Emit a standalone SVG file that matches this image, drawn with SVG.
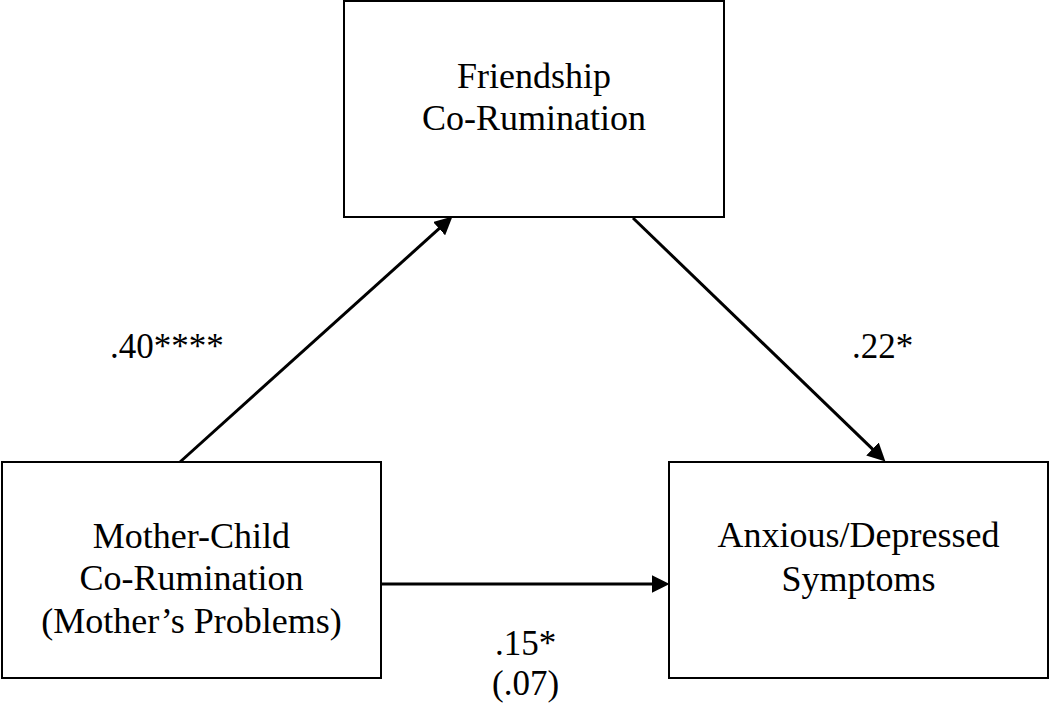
<svg xmlns="http://www.w3.org/2000/svg" width="1050" height="706" viewBox="0 0 1050 706">
<style>
.box{fill:#fff;stroke:#000;stroke-width:2}
.t{font-family:"Liberation Serif","Times New Roman",serif;font-size:36px;fill:#000;text-anchor:middle}
.lbl{font-family:"Liberation Serif","Times New Roman",serif;font-size:35px;fill:#000}
.c{stroke:#000;stroke-width:3;fill:none;marker-end:url(#ah)}
</style>
<defs>
<marker id="ah" markerUnits="userSpaceOnUse" markerWidth="18" markerHeight="18" refX="7" refY="8.5" orient="auto" viewBox="0 0 17 17">
<path d="M0,0 L17,8.5 L0,17 z" fill="#000"/>
</marker>
</defs>
<rect width="1050" height="706" fill="#fff"/>
<g id="connectors">
<path class="c" d="M180,462 L444.6,223.7"/>
<path class="c" d="M633,218 L877.8,454.1"/>
<path class="c" d="M381,584 L659,584"/>
</g>
<g id="friendship">
<rect class="box" x="344" y="1" width="380" height="216"/>
<text class="t" x="534" y="88">Friendship</text>
<text class="t" x="534" y="130">Co-Rumination</text>
</g>
<g id="mother-child">
<rect class="box" x="2" y="462" width="379" height="216"/>
<text class="t" x="191.5" y="548">Mother-Child</text>
<text class="t" x="191.5" y="590">Co-Rumination</text>
<text class="t" x="191.5" y="633">(Mother’s Problems)</text>
</g>
<g id="anxious">
<rect class="box" x="669" y="462" width="379" height="216"/>
<text class="t" x="858.5" y="547">Anxious/Depressed</text>
<text class="t" x="858.5" y="591">Symptoms</text>
</g>
<g id="labels">
<text class="lbl" x="110" y="358">.40****</text>
<text class="lbl" x="852" y="358">.22*</text>
<text class="lbl" x="495" y="655">.15*</text>
<text class="lbl" x="492" y="695">(.07)</text>
</g>
</svg>
